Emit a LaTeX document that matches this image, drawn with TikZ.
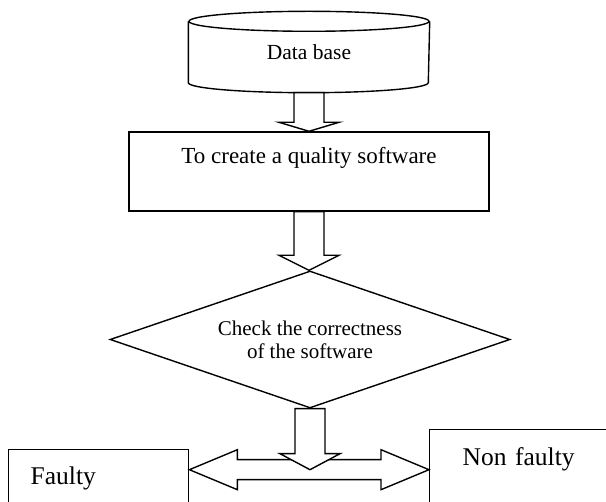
\documentclass[tikz,border=0pt]{standalone}
\usepackage{fontspec}
\setmainfont{Liberation Serif}
\usetikzlibrary{calc}
\usetikzlibrary{shapes.geometric}
\usetikzlibrary{positioning}

% hollow block arrow pointing down: from, to, head length
\newcommand{\blockdown}[3]{%
	\draw[blockarrow] let \p1=#1, \p2=#2 in
	(\x1-15pt,\y1) -- (\x1-15pt,\y2+#3pt) -- (\x1-30pt,\y2+#3pt) -- (\x1,\y2)
	-- (\x1+30pt,\y2+#3pt) -- (\x1+15pt,\y2+#3pt) -- (\x1+15pt,\y1) -- cycle;
}

\begin{document}
\begin{tikzpicture}[x=1pt, y=-1pt, line width=1.4pt, font=\fontsize{21}{23}\selectfont]
    \tikzstyle{blockarrow}=[draw=black, fill=white, line join=miter]
    \tikzstyle{box}=[draw=black, rectangle, inner sep=0pt]
    \tikzstyle{result}=[draw=black, rectangle, anchor=north west, align=left, inner ysep=0pt, text depth=80pt, font=\fontsize{25.5}{29}\selectfont]

    \useasboundingbox (0,0) rectangle (606,502);
    \clip (0,0) rectangle (606,502);

    \node[minimum width=240pt, minimum height=60pt, inner sep=0pt, font=\fontsize{21.5}{24}\selectfont] (db) at (309,52) {Data base};
    \draw (db.north west) -- (db.south west) arc[start angle=180, end angle=360, x radius=120pt, y radius=10pt] -- (db.north east);
    \draw (db.north) ellipse[x radius=120pt, y radius=10pt];
    \coordinate (dbbase) at ($(db.south)+(0,10)$);

    \node[box, minimum width=360pt, minimum height=79pt, text height=16pt, text depth=31pt, font=\fontsize{23}{26}\selectfont] (soft) at (309,171.5) {To create a quality software};
    \node[draw=black, diamond, aspect=2.92, minimum width=400pt, minimum height=137pt, inner sep=0pt, align=center] (check) at (310,339.5) {Check the correctness\\of the software};
    \coordinate (split) at ($(check.south)+(0,61)$);

    \node[result, minimum width=180pt, inner xsep=22pt, text width=136pt, text height=35pt] (faulty) at (8,449) {Faulty};
    \node[result, inner xsep=33pt, text width=200pt, text height=36pt] (nonfaulty) at (429,429) {Non faulty};

    \blockdown{(dbbase)}{(soft.north)}{9}
    \blockdown{(soft.south)}{(check.north)}{15}

    % two-headed arrow to the results
    \draw[blockarrow] let \p1=(faulty.east|-split), \p2=(nonfaulty.west|-split) in
        (\x1,\y1) -- (\x1+48pt,\y1+20pt) -- (\x1+48pt,\y1+10pt) -- (\x2-48pt,\y2+10pt)
        -- (\x2-48pt,\y2+20pt) -- (\x2,\y2) -- (\x2-48pt,\y2-20pt) -- (\x2-48pt,\y2-10pt)
        -- (\x1+48pt,\y1-10pt) -- (\x1+48pt,\y1-20pt) -- cycle;
    \blockdown{(check.south)}{(split)}{16}

\end{tikzpicture}
\end{document}
